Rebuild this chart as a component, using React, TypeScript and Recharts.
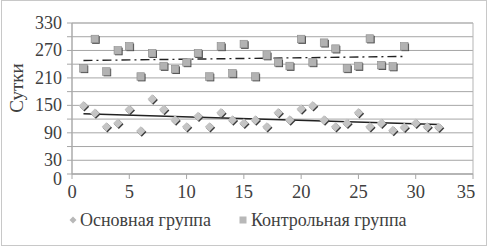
import React from 'react';
import { ComposedChart, Scatter, XAxis, YAxis, CartesianGrid, ReferenceArea } from 'recharts';

const osnX = [1,2,3,4,5,6,7,8,9,10,11,12,13,14,15,16,17,18,19,20,21,22,23,24,25,26,27,28,29,30,31,32];
const osnY = [149,133,103,111,141,94,164,141,118,103,126,103,134,118,111,118,103,134,118,142,149,118,103,111,134,103,111,95,102,111,103,102];
const kontrX = [1,2,3,4,5,6,7,8,9,10,11,12,13,14,15,16,17,18,19,20,21,22,23,24,25,26,27,28,29];
const kontrY = [231,295,224,270,279,213,264,236,229,244,264,213,279,220,284,213,259,244,236,295,244,287,274,231,236,296,238,235,279];
const trendOsnX = [1, 32];
const trendOsnY = [131.5, 108];
const trendKontrX = [1, 29];
const trendKontrY = [248, 257];
const xTicks = [0, 5, 10, 15, 20, 25, 30, 35];
const yTicks = [0, 30, 60, 90, 120, 150, 180, 210, 240, 270, 300, 330];
const yLabeled = [0, 30, 90, 150, 210, 270, 330];
const seriesNames = ['Основная группа', 'Контрольная группа'];
const yTitle = 'Сутки';

const osnData = osnX.map((x, i) => ({ x, y: osnY[i] }));
const kontrData = kontrX.map((x, i) => ({ x, y: kontrY[i] }));
const trendOsn = trendOsnX.map((x, i) => ({ x, y: trendOsnY[i] }));
const trendKontr = trendKontrX.map((x, i) => ({ x, y: trendKontrY[i] }));

const FONT = '"Liberation Serif", serif';

const Diamond = (props: any) => {
  const { cx, cy } = props;
  if (cx == null || cy == null) return null;
  const r = 4.7;
  return (
    <g>
      <polygon points={`${cx + 1},${cy - r + 1} ${cx + r + 1},${cy + 1} ${cx + 1},${cy + r + 1} ${cx - r + 1},${cy + 1}`} fill="#3a3a3a" />
      <polygon points={`${cx},${cy - r} ${cx + r},${cy} ${cx},${cy + r} ${cx - r},${cy}`} fill="#c4c4c4" />
    </g>
  );
};

const Square = (props: any) => {
  const { cx, cy } = props;
  if (cx == null || cy == null) return null;
  const r = 3.8;
  return (
    <g>
      <rect x={cx - r + 1} y={cy - r + 1} width={2 * r} height={2 * r} fill="#3f3f3f" />
      <rect x={cx - r} y={cy - r} width={2 * r} height={2 * r} fill="#b2b2b2" stroke="#8a8a8a" strokeWidth={0.6} />
    </g>
  );
};

const Nothing = () => <g />;

const YTick = (props: any) => {
  const { x, y, payload } = props;
  if (!yLabeled.includes(payload.value)) return null;
  const dy = payload.value === 0 ? 5 : 0;
  return (
    <text x={x} y={y + dy} textAnchor="end" dominantBaseline="central" fontFamily={FONT} fontSize={18} fill="#404040">
      {payload.value}
    </text>
  );
};

const XTick = (props: any) => {
  const { x, y, payload } = props;
  const dx = payload.value === 35 ? -7 : 0;
  return (
    <text x={x + dx} y={y} textAnchor="middle" dominantBaseline="hanging" fontFamily={FONT} fontSize={18.5} fill="#404040">
      {payload.value}
    </text>
  );
};

const YTitle = () => (
  <text x={23} y={88} transform="rotate(-90 23 88)" textAnchor="middle" fontFamily={FONT} fontSize={19} fill="#404040">
    {yTitle}
  </text>
);

const legendText: React.CSSProperties = { position: 'absolute', top: 0, fontSize: 18, lineHeight: '20px', color: '#404040', whiteSpace: 'nowrap' };

export default function App() {
  return (
    <div style={{ position: 'absolute', left: 0, top: 0, width: 488, height: 246, background: '#fff', fontFamily: FONT }}>
      <div style={{ position: 'absolute', left: 1, top: 0, width: 484, height: 244, border: '1px solid #c8c8c8' }} />
      <ComposedChart width={488} height={246} margin={{ top: 23, right: 15, left: 0, bottom: 42 }}>
        <CartesianGrid horizontal vertical={false} stroke="#a6a6a6" />
        <XAxis
          type="number"
          dataKey="x"
          domain={[0, 35]}
          ticks={xTicks}
          interval={0}
          allowDataOverflow
          height={30}
          axisLine={{ stroke: '#a6a6a6' }}
          tickLine={{ stroke: '#a6a6a6' }}
          tickSize={5}
          tickMargin={6}
          tick={<XTick />}
        />
        <YAxis
          type="number"
          dataKey="y"
          domain={[0, 330]}
          ticks={yTicks}
          interval={0}
          width={72}
          axisLine={{ stroke: '#a6a6a6' }}
          tickLine={{ stroke: '#a6a6a6' }}
          tickSize={5}
          tickMargin={5}
          tick={<YTick />}
          label={{ content: () => <YTitle /> }}
        />
        <ReferenceArea x1={0} x2={35} y1={0} y2={330} fill="none" stroke="#b5b5b5" strokeWidth={1} ifOverflow="visible" />
        <Scatter name="trendKontr" data={trendKontr} shape={<Nothing />} line={{ stroke: '#222', strokeWidth: 1.4, strokeDasharray: '9 4 2 4' }} isAnimationActive={false} />
        <Scatter name="trendOsn" data={trendOsn} shape={<Nothing />} line={{ stroke: '#222', strokeWidth: 1.5 }} isAnimationActive={false} />
        <Scatter name={seriesNames[1]} data={kontrData} shape={<Square />} isAnimationActive={false} />
        <Scatter name={seriesNames[0]} data={osnData} shape={<Diamond />} isAnimationActive={false} />
      </ComposedChart>
      <div style={{ position: 'absolute', left: 0, top: 210, width: 488, height: 20 }}>
        <svg width={10} height={10} style={{ position: 'absolute', left: 68, top: 5 }}>
          <polygon points="5,1.5 8.5,5 5,8.5 1.5,5" fill="#b8b8b8" />
        </svg>
        <span style={{ ...legendText, left: 80 }}>{seriesNames[0]}</span>
        <svg width={10} height={10} style={{ position: 'absolute', left: 238, top: 5 }}>
          <rect x={1.5} y={1.5} width={7} height={7} fill="#b8b8b8" />
        </svg>
        <span style={{ ...legendText, left: 251 }}>{seriesNames[1]}</span>
      </div>
    </div>
  );
}
